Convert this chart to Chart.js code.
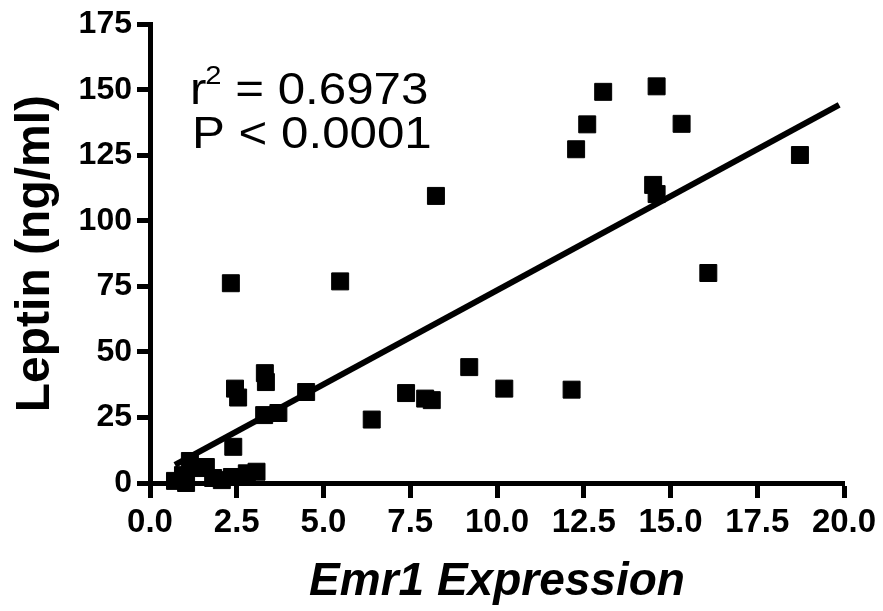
<!DOCTYPE html>
<html lang="en">
<head>
    <meta charset="UTF-8">
    <title>Emr1 vs Leptin</title>
    <script src="https://cdn.jsdelivr.net/npm/chart.js@4.4.1/dist/chart.umd.min.js"></script>
    <style>
        html, body { margin: 0; padding: 0; background: #fff; }
        #wrap { width: 883px; height: 611px; }
    </style>
</head>
<body>
    <div id="wrap"><canvas id="scatter" width="883" height="611"></canvas></div>

    <script>
        // Emr1 expression (x) and leptin in ng/ml (y)
        const emrX = [
            2.33, 5.48, 8.24, 13.06, 14.60, 12.60, 15.32, 12.28, 18.73, 14.50,
            14.60, 16.09, 6.39, 7.38, 7.93, 8.12, 9.20, 10.21, 12.15, 2.45,
            2.54, 3.31, 3.34, 4.50, 3.29, 3.70, 2.40, 0.72, 0.95, 1.15,
            1.35, 1.61, 1.82, 2.07, 1.04, 2.36, 2.79, 3.07
        ];
        const leptinY = [
            76.2, 76.9, 109.5, 149.2, 151.3, 136.8, 137.0, 127.3, 125.1, 113.7,
            110.2, 80.1, 24.2, 34.3, 32.2, 31.6, 44.2, 36.0, 35.6, 36.0,
            32.6, 41.9, 38.5, 34.7, 25.9, 26.7, 13.8, 0.8, 3.0, 8.4,
            5.7, 6.1, 1.9, 1.1, 0.0, 2.3, 3.7, 4.3
        ];

        // ends of the fitted line as drawn
        const fitX = [0.72, 19.86];
        const fitY = [6.95, 144.2];

        const xTicks = [0, 2.5, 5, 7.5, 10, 12.5, 15, 17.5, 20];
        const yTicks = [0, 25, 50, 75, 100, 125, 150, 175];

        const statLines = ['0.6973', '0.0001'];

        const FONT = '"Liberation Sans", Arial, Helvetica, sans-serif';

        const points = emrX.map((x, i) => ({ x: x, y: leptinY[i] }));
        const fit = fitX.map((x, i) => ({ x: x, y: fitY[i] }));

        // r^2 / P text in the upper left
        const statsText = {
            id: 'statsText',
            afterDatasetsDraw(chart) {
                const ctx = chart.ctx;
                const sx = 1.12;
                ctx.save();
                ctx.fillStyle = '#000';
                ctx.textBaseline = 'alphabetic';
                ctx.textAlign = 'left';

                // line 1: r^2 = ...
                ctx.save();
                ctx.translate(190, 104);
                ctx.scale(sx, 1);
                ctx.font = '44px ' + FONT;
                ctx.fillText('r', 0, 0);
                let w = ctx.measureText('r').width;
                ctx.font = '26px ' + FONT;
                ctx.fillText('2', w - 1, -20);
                w += ctx.measureText('2').width - 1;
                ctx.font = '44px ' + FONT;
                ctx.fillText(' = ' + statLines[0], w, 0);
                ctx.restore();

                // line 2: P < ...
                ctx.save();
                ctx.translate(192, 148);
                ctx.scale(sx, 1);
                ctx.font = '44px ' + FONT;
                ctx.fillText('P < ' + statLines[1], 0, 0);
                ctx.restore();

                ctx.restore();
            }
        };

        const ctx = document.getElementById('scatter').getContext('2d');
        new Chart(ctx, {
            type: 'scatter',
            data: {
                datasets: [
                    {
                        type: 'line',
                        label: 'fit',
                        data: fit,
                        borderColor: '#000',
                        borderWidth: 6,
                        pointRadius: 0,
                        fill: false,
                        clip: false
                    },
                    {
                        label: 'Leptin',
                        data: points,
                        pointStyle: 'rect',
                        pointRadius: 12,
                        pointBackgroundColor: '#000',
                        pointBorderColor: '#000',
                        pointBorderWidth: 1,
                        clip: false
                    }
                ]
            },
            options: {
                responsive: false,
                animation: false,
                layout: { padding: { top: 23, right: 39, left: 0, bottom: 0 } },
                plugins: {
                    legend: { display: false },
                    tooltip: { enabled: false }
                },
                scales: {
                    x: {
                        type: 'linear',
                        min: 0,
                        max: 20,
                        afterFit: s => { s.height = 128; },
                        afterBuildTicks: s => { s.ticks = xTicks.map(v => ({ value: v })); },
                        ticks: {
                            color: '#000',
                            padding: 5,
                            maxRotation: 0,
                            font: { family: FONT, size: 33, weight: 'bold' },
                            callback: v => Number(v).toFixed(1)
                        },
                        grid: {
                            drawOnChartArea: false,
                            drawTicks: true,
                            tickLength: 15,
                            tickWidth: 5,
                            tickColor: '#000'
                        },
                        border: { display: true, width: 5, color: '#000' },
                        title: {
                            display: true,
                            text: 'Emr1 Expression',
                            color: '#000',
                            padding: { top: 0, bottom: 1 },
                            font: { family: FONT, size: 46, weight: 'bold', style: 'italic' }
                        }
                    },
                    y: {
                        type: 'linear',
                        min: 0,
                        max: 175,
                        afterFit: s => { s.width = 150; },
                        afterBuildTicks: s => { s.ticks = yTicks.map(v => ({ value: v })); },
                        ticks: {
                            color: '#000',
                            padding: 5,
                            font: { family: FONT, size: 32, weight: 'bold' }
                        },
                        grid: {
                            drawOnChartArea: false,
                            drawTicks: true,
                            tickLength: 13,
                            tickWidth: 5,
                            tickColor: '#000'
                        },
                        border: { display: true, width: 5, color: '#000' },
                        title: {
                            display: true,
                            text: 'Leptin (ng/ml)',
                            color: '#000',
                            padding: { top: 7, bottom: 0 },
                            font: { family: FONT, size: 48, weight: 'bold' }
                        }
                    }
                }
            },
            plugins: [statsText]
        });
    </script>
</body>
</html>
